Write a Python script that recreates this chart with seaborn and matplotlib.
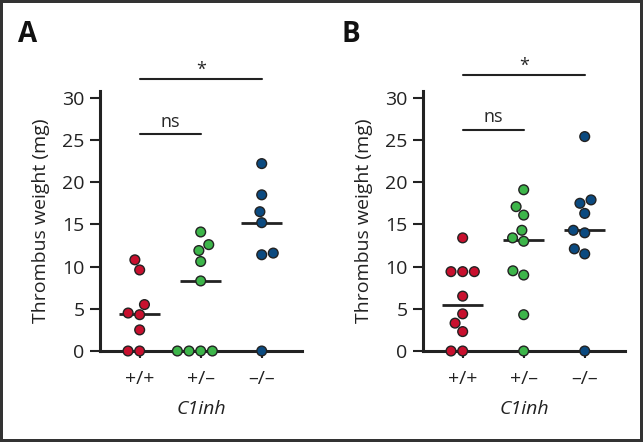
import numpy as np
import pandas as pd
import seaborn as sns
import matplotlib.pyplot as plt

genotypes = ['+/+', '+/\u2013', '\u2013/\u2013']
colors = ['#c8102e', '#3db54a', '#0b4a80']

# Panel A values (mg)
a_wt = [0, 0, 2.5, 4.3, 4.5, 5.5, 9.6, 10.8]
a_het = [0, 0, 0, 0, 8.3, 10.6, 11.9, 12.6, 14.1]
a_ko = [0, 11.4, 11.6, 15.2, 16.5, 18.5, 22.2]

# Panel B values (mg)
b_wt = [0, 0, 2.3, 3.3, 4.4, 6.5, 9.4, 9.4, 9.4, 13.4]
b_het = [0, 4.3, 9.0, 9.5, 13.0, 13.4, 14.3, 16.1, 17.1, 19.1]
b_ko = [0, 11.5, 12.1, 14.0, 14.3, 16.3, 17.5, 17.9, 25.4]

# brackets: (from, to, height, label, text height)
a_brackets = [(0, 1, 25.7, 'ns', 26.1), (0, 2, 32.2, '*', 32.2)]
b_brackets = [(0, 1, 26.2, 'ns', 26.6), (0, 2, 32.7, '*', 32.7)]

sns.set_style('white')
plt.rcParams['font.family'] = ['Open Sans', 'DejaVu Sans']

fig = plt.figure(figsize=(6.43, 4.42), dpi=100)
fig.patch.set_edgecolor('#333333')
fig.patch.set_linewidth(3)

axA = fig.add_axes([100 / 643, 1 - 351 / 442, 202 / 643, 260 / 442])
axB = fig.add_axes([423 / 643, 1 - 351 / 442, 202 / 643, 260 / 442])


def draw_panel(ax, groups, brackets, letter, lx):
    df = pd.DataFrame({
        'genotype': np.concatenate([[g] * len(v) for g, v in zip(genotypes, groups)]),
        'weight': np.concatenate(groups),
    })
    sns.swarmplot(data=df, x='genotype', y='weight', hue='genotype', order=genotypes,
                  hue_order=genotypes, palette=colors, size=7, linewidth=1,
                  edgecolor='#222222', legend=False, ax=ax, zorder=4)
    for c in ax.collections:
        c.set_clip_on(False)
    for i, v in enumerate(groups):
        ax.hlines(np.median(v), i - 0.335, i + 0.335, color='#222222', lw=2, zorder=3)
    for x0, x1, y, lab, ty in brackets:
        ax.plot([x0, x1], [y, y], color='#222222', lw=1.5, clip_on=False)
        ax.text((x0 + x1) / 2, ty, lab, ha='center', va='bottom', fontsize=13,
                clip_on=False)
    ax.set_ylim(0, 30.8)
    ax.set_xlim(-0.65, 2.66)
    ax.set_yticks([0, 5, 10, 15, 20, 25, 30])
    sns.despine(ax=ax)
    for s in ['left', 'bottom']:
        ax.spines[s].set_linewidth(2.2)
        ax.spines[s].set_color('#222222')
    ax.tick_params(axis='y', direction='out', length=7, width=1.5, labelsize=14,
                   left=True, pad=4, colors='#222222')
    ax.tick_params(axis='x', direction='out', length=5, width=1.5, labelsize=14,
                   bottom=True, pad=9, colors='#222222')
    ax.set_ylabel('Thrombus weight (mg)', fontsize=14, color='#222222', labelpad=9)
    ax.set_xlabel('C1inh', fontsize=14, style='italic', color='#222222', labelpad=8)
    fig.text(lx, 1 - 42 / 442, letter, fontsize=20, fontweight='bold', color='#111111')


draw_panel(axA, [a_wt, a_het, a_ko], a_brackets, 'A', 18 / 643)
draw_panel(axB, [b_wt, b_het, b_ko], b_brackets, 'B', 342 / 643)

fig.savefig('out.png', dpi=100)
